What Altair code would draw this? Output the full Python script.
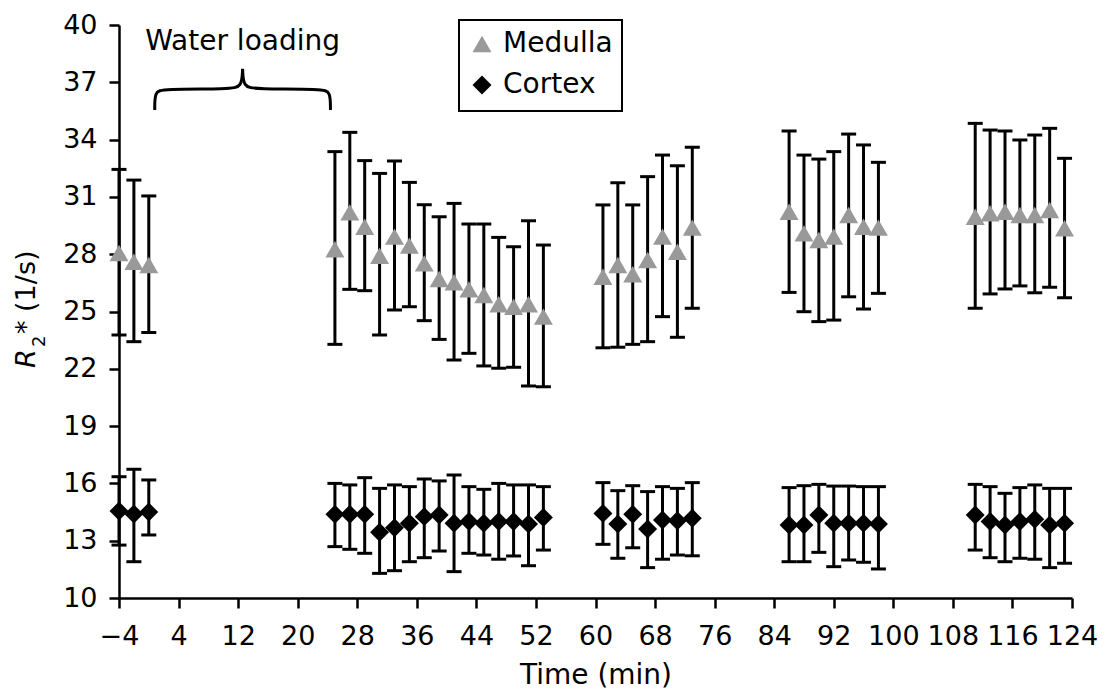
import altair as alt
import pandas as pd

FONT = "DejaVu Sans"

# ---------------- data ----------------
times = [-4, -2, 0,
         25, 27, 29, 31, 33, 35, 37, 39, 41, 43, 45, 47, 49, 51, 53,
         61, 63, 65, 67, 69, 71, 73,
         86, 88, 90, 92, 94, 96, 98,
         111, 113, 115, 117, 119, 121, 123]

medulla_mean = [28.06, 27.60, 27.43,
                28.26, 30.19, 29.44, 27.92, 28.92, 28.45, 27.52, 26.70, 26.53, 26.16, 25.86, 25.38, 25.25, 25.38, 24.73,
                26.82, 27.43, 26.95, 27.70, 28.92, 28.13, 29.39,
                30.22, 29.09, 28.74, 28.92, 30.05, 29.44, 29.39,
                29.96, 30.14, 30.22, 30.05, 30.05, 30.31, 29.36]
medulla_hi = [32.44, 31.88, 31.05,
              33.37, 34.38, 32.90, 32.23, 32.88, 31.76, 30.59, 29.96, 30.66, 29.58, 29.58, 28.88, 28.39, 29.75, 28.48,
              30.58, 31.74, 30.58, 32.06, 33.19, 32.63, 33.60,
              34.45, 33.19, 32.98, 33.37, 34.29, 33.72, 32.81,
              34.85, 34.50, 34.45, 33.98, 34.24, 34.59, 33.02]
medulla_lo = [23.77, 23.42, 23.90,
              23.28, 26.16, 26.09, 23.77, 25.08, 25.25, 24.52, 23.54, 22.46, 22.81, 22.15, 22.03, 22.08, 21.10, 21.06,
              23.10, 23.13, 23.28, 23.42, 24.73, 23.65, 25.17,
              26.00, 24.99, 24.47, 24.55, 25.77, 25.13, 25.95,
              25.17, 25.92, 26.18, 26.34, 25.98, 26.27, 25.72]

cortex_mean = [14.55, 14.40, 14.50,
               14.38, 14.38, 14.38, 13.44, 13.68, 13.91, 14.26, 14.35, 13.91, 14.00, 13.91, 14.00, 14.00, 13.87, 14.22,
               14.43, 13.87, 14.38, 13.61, 14.08, 14.05, 14.17,
               13.82, 13.82, 14.35, 13.91, 13.91, 13.91, 13.87,
               14.35, 14.00, 13.82, 14.00, 14.12, 13.82, 13.91]
cortex_hi = [16.35, 16.74, 16.18,
             16.00, 15.92, 16.30, 15.74, 15.92, 15.83, 16.23, 16.13, 16.44, 15.83, 15.69, 16.00, 15.92, 15.92, 15.83,
             16.04, 15.62, 15.88, 15.57, 15.83, 15.74, 16.04,
             15.78, 15.88, 15.95, 15.86, 15.86, 15.83, 15.83,
             15.95, 15.83, 15.48, 15.78, 15.92, 15.74, 15.74]
cortex_lo = [12.77, 11.90, 13.30,
             12.69, 12.55, 12.34, 11.29, 11.43, 11.90, 12.11, 12.46, 11.38, 12.34, 12.25, 12.03, 12.20, 11.69, 12.51,
             12.81, 12.08, 12.63, 11.59, 12.03, 12.25, 12.21,
             11.90, 11.90, 12.39, 11.64, 11.99, 11.87, 11.52,
             12.51, 12.11, 11.90, 12.08, 12.03, 11.59, 11.82]

series_names = ["Medulla", "Cortex"]
series_colors = ["#999999", "#000000"]
series_shapes = ["triangle-up", "diamond"]

x_ticks = [-4, 4, 12, 20, 28, 36, 44, 52, 60, 68, 76, 84, 92, 100, 108, 116, 124]
y_ticks = [10, 13, 16, 19, 22, 25, 28, 31, 34, 37, 40]

# "Water loading" brace (time, R2*) for its two halves
brace_left_t = [0.8, 0.8, 1.8, 10.9, 12.5, 12.6]
brace_right_t = [24.4, 24.4, 23.4, 14.3, 12.7, 12.6]
brace_v = [35.55, 36.5, 36.65, 36.65, 36.75, 37.7]
annot_text = "Water loading"
annot_t = 12.6
annot_v = 38.69

# ---------------- tables ----------------
rows = []
for i, t in enumerate(times):
    rows.append(dict(time=t, series="Medulla", value=medulla_mean[i], lo=medulla_lo[i], hi=medulla_hi[i]))
    rows.append(dict(time=t, series="Cortex", value=cortex_mean[i], lo=cortex_lo[i], hi=cortex_hi[i]))
df = pd.DataFrame(rows)

brace_rows = []
for i in range(len(brace_v)):
    brace_rows.append(dict(half="L", idx=i, time=brace_left_t[i], value=brace_v[i]))
    brace_rows.append(dict(half="R", idx=i, time=brace_right_t[i], value=brace_v[i]))
brace_df = pd.DataFrame(brace_rows)
annot_df = pd.DataFrame({"time": [annot_t], "value": [annot_v], "label": [annot_text]})

# ---------------- encodings ----------------
x_scale = alt.Scale(domain=[-4, 124], nice=False, zero=False)
y_scale = alt.Scale(domain=[10, 40], nice=False, zero=False)
x_axis = alt.Axis(values=x_ticks, title="Time (min)", labelPadding=15, titlePadding=12,
                  labelOverlap=False, labelFlush=False)
y_axis = alt.Axis(values=y_ticks, title=None, labelPadding=12, labelOverlap=False)


def X():
    return alt.X("time:Q", scale=x_scale, axis=x_axis)


def Y(field):
    return alt.Y(field, scale=y_scale, axis=y_axis)


legend = alt.Legend(title=None, orient="none", legendX=337, legendY=-7)

rules = alt.Chart(df).mark_rule(color="black", strokeWidth=3).encode(
    x=X(), y=Y("lo:Q"), y2="hi:Q")
caps_lo = alt.Chart(df).mark_tick(orient="horizontal", color="black", size=15, thickness=3, opacity=1).encode(
    x=X(), y=Y("lo:Q"))
caps_hi = alt.Chart(df).mark_tick(orient="horizontal", color="black", size=15, thickness=3, opacity=1).encode(
    x=X(), y=Y("hi:Q"))
points = alt.Chart(df).mark_point(filled=True, size=360, opacity=1).encode(
    x=X(), y=Y("value:Q"),
    color=alt.Color("series:N", scale=alt.Scale(domain=series_names, range=series_colors), legend=legend),
    shape=alt.Shape("series:N", scale=alt.Scale(domain=series_names, range=series_shapes), legend=legend),
)

brace = alt.Chart(brace_df).mark_line(color="black", strokeWidth=3, interpolate="basis").encode(
    x=X(), y=Y("value:Q"), detail="half:N", order="idx:Q")
annot = alt.Chart(annot_df).mark_text(font=FONT, fontSize=28, color="black", align="center",
                                      baseline="alphabetic").encode(
    x=X(), y=Y("value:Q"), text="label:N")

legend_frame = alt.Chart(pd.DataFrame({"k": [0]})).mark_rect(
    fillOpacity=0, stroke="black", strokeWidth=2).encode(
    x=alt.value(340), x2=alt.value(503), y=alt.value(-5), y2=alt.value(86))

# y-axis title: italic R, subscript 2, then "* (1/s)"
t_r = alt.Chart(pd.DataFrame({"s": ["R"]})).mark_text(
    font=FONT, fontSize=27, fontStyle="italic", angle=270, align="left", baseline="alphabetic", color="black"
).encode(x=alt.value(-84), y=alt.value(343), text="s:N")
t_2 = alt.Chart(pd.DataFrame({"s": ["2"]})).mark_text(
    font=FONT, fontSize=18, angle=270, align="left", baseline="alphabetic", color="black"
).encode(x=alt.value(-74), y=alt.value(322), text="s:N")
t_rest = alt.Chart(pd.DataFrame({"s": ["* (1/s)"]})).mark_text(
    font=FONT, fontSize=27, angle=270, align="left", baseline="alphabetic", color="black"
).encode(x=alt.value(-84), y=alt.value(309), text="s:N")

chart = alt.layer(
    brace, annot, rules, caps_lo, caps_hi, points, legend_frame, t_r, t_2, t_rest
).properties(
    width=953, height=573,
    autosize=alt.AutoSizeParams(type="none"),
    padding={"left": 111, "top": 17, "right": 28, "bottom": 92},
).configure_axis(
    domainColor="black", domainWidth=2.5, tickColor="black", tickWidth=2.5, tickSize=10,
    labelFont=FONT, labelFontSize=27, labelColor="black",
    titleFont=FONT, titleFontSize=28, titleFontWeight="normal", titleColor="black",
    grid=False,
).configure_legend(
    labelFont=FONT, labelFontSize=28, labelColor="black", symbolSize=360,
    padding=12, rowPadding=13, labelOffset=7, symbolStrokeWidth=0,
).configure_view(stroke="transparent")

chart.save("out.html", embed_options={"renderer": "svg", "actions": False})
